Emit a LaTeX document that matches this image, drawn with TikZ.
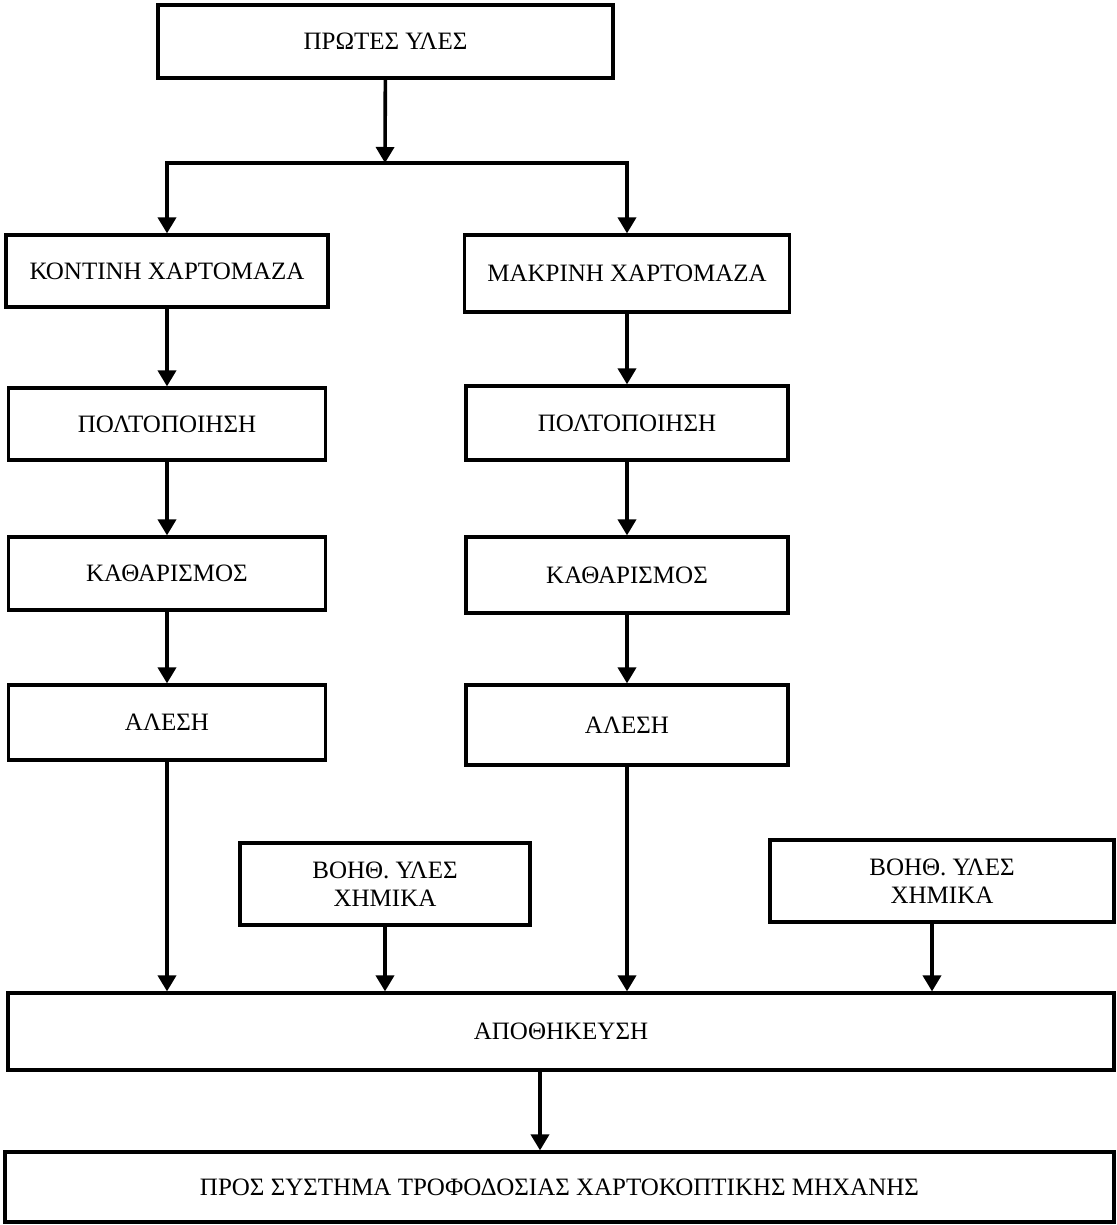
\documentclass[tikz,border=0pt]{standalone}
\usepackage{fontspec}
\setmainfont{Liberation Serif}
\usetikzlibrary{arrows.meta}
\begin{document}
\begin{tikzpicture}[x=0.5pt,y=-0.5pt,
    box/.style={draw,line width=1.6pt,inner sep=0pt,font=\fontsize{12.5}{14}\selectfont,align=center},
    flow/.style={line width=1.8pt,-{Triangle[width=9pt,length=8pt]}}]
\useasboundingbox (0,0) rectangle (1116,1225);
\node[box,minimum width=227.5pt,minimum height=36.5pt] (raw) at (385.5,41.5) {ΠΡΩΤΕΣ ΥΛΕΣ};
\coordinate (split) at (385,163);
% left line
\node[box,minimum width=161pt,minimum height=36pt] (near) at (167,271) {ΚΟΝΤΙΝΗ ΧΑΡΤΟΜΑΖΑ};
\node[box,minimum width=158.5pt,minimum height=36pt] (pulpL) at (167,424) {ΠΟΛΤΟΠΟΙΗΣΗ};
\node[box,minimum width=158.5pt,minimum height=36.5pt] (cleanL) at (167,573.5) {ΚΑΘΑΡΙΣΜΟΣ};
\node[box,minimum width=158.5pt,minimum height=37.5pt] (millL) at (167,722.5) {ΑΛΕΣΗ};
% right line
\node[box,minimum width=162.5pt,minimum height=38.5pt] (far) at (627,273.5) {ΜΑΚΡΙΝΗ ΧΑΡΤΟΜΑΖΑ};
\node[box,minimum width=161pt,minimum height=37pt] (pulpR) at (627,423) {ΠΟΛΤΟΠΟΙΗΣΗ};
\node[box,minimum width=161pt,minimum height=38pt] (cleanR) at (627,575) {ΚΑΘΑΡΙΣΜΟΣ};
\node[box,minimum width=161pt,minimum height=40pt] (millR) at (627,725) {ΑΛΕΣΗ};
% additives
\node[box,minimum width=145pt,minimum height=41pt] (addL) at (385,884) {ΒΟΗΘ. ΥΛΕΣ\\ΧΗΜΙΚΑ};
\node[box,minimum width=172pt,minimum height=41pt] (addR) at (942,881) {ΒΟΗΘ. ΥΛΕΣ\\ΧΗΜΙΚΑ};
\node[box,minimum width=553pt,minimum height=38.5pt] (store) at (561,1031.5) {ΑΠΟΘΗΚΕΥΣΗ};
\node[box,minimum width=554.5pt,minimum height=35pt] (feed) at (559.5,1187) {ΠΡΟΣ ΣΥΣΤΗΜΑ ΤΡΟΦΟΔΟΣΙΑΣ ΧΑΡΤΟΚΟΠΤΙΚΗΣ ΜΗΧΑΝΗΣ};
\draw[flow] (raw) -- (split);
\draw[flow] (split) -| (near);
\draw[flow] (split) -| (far);
\draw[flow] (near) -- (pulpL);
\draw[flow] (pulpL) -- (cleanL);
\draw[flow] (cleanL) -- (millL);
\draw[flow] (far) -- (pulpR);
\draw[flow] (pulpR) -- (cleanR);
\draw[flow] (cleanR) -- (millR);
\draw[flow] (millL) -- (millL |- store.north);
\draw[flow] (addL) -- (addL |- store.north);
\draw[flow] (millR) -- (millR |- store.north);
\draw[flow] ([xshift=-5pt]addR.south) -- ([xshift=-5pt]addR.south |- store.north);
\draw[flow] ([xshift=-10.5pt]store.south) -- ([xshift=-10.5pt]store.south |- feed.north);
\end{tikzpicture}
\end{document}
